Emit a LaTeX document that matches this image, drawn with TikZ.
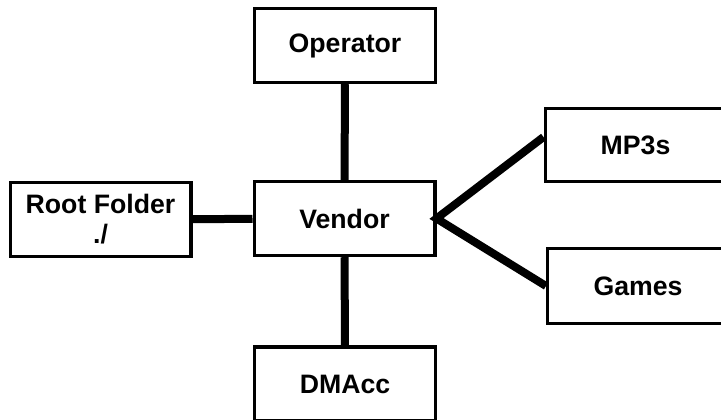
\documentclass[tikz,border=0pt]{standalone}
\usepackage{fontspec}
\setmainfont{Liberation Sans}
\begin{document}
\begin{tikzpicture}[
    x=0.75pt, y=-0.75pt,
    font=\fontsize{20}{22.5}\selectfont\bfseries,
    box/.style={draw, line width=2.6pt, align=center, inner sep=0pt,
                minimum width=135.4pt, minimum height=55.5pt},
    link/.style={line width=6pt},
  ]
  \clip (0,0) rectangle (721,419);
  \node[box] (operator) at (345,45.5) {Operator};
  \node[box] (vendor) at (344.5,218.5) {Vendor};
  \node[box] (root) at (100.5,219.5) {Root Folder\\./};
  \node[box, minimum height=54.5pt] (mp3) at (635.5,145) {MP3s};
  \node[box, minimum height=56pt] (games) at (638,286) {Games};
  \node[box] (dmacc) at (345,384) {DMAcc};

  % links from the vendor
  \draw[link] (operator) -- (vendor);
  \draw[link] (vendor) -- (dmacc);
  \draw[link] (root) -- (vendor);
  \draw[link] ([yshift=6pt]mp3.west) -- (vendor.east) -- (games.west);
\end{tikzpicture}
\end{document}
